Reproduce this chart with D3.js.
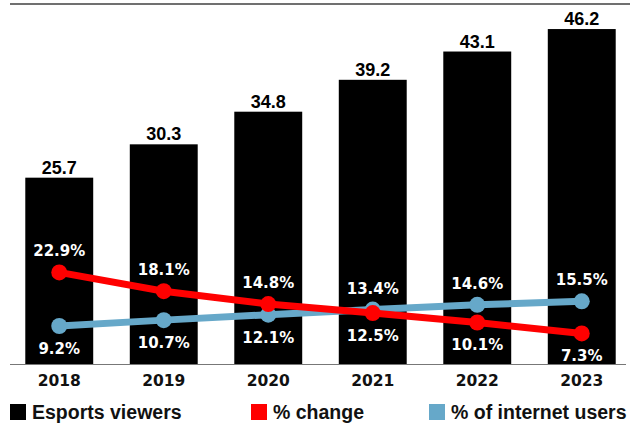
<!DOCTYPE html>
<html>
<head>
<meta charset="utf-8">
<script src="https://cdn.jsdelivr.net/npm/d3@7"></script>
<style>
  body { margin: 0; background: #fff; }
  .val { font-family: "Liberation Sans", Arial, sans-serif; font-weight: bold; font-size: 18px; }
  .pct { font-family: "DejaVu Sans", sans-serif; font-weight: bold; font-size: 15px; fill: #fff; }
  .year { font-family: "DejaVu Sans", sans-serif; font-weight: bold; font-size: 15.5px; }
  .legend { font-family: "Liberation Sans", Arial, sans-serif; font-weight: bold; font-size: 19.5px; }
</style>
</head>
<body>
<svg id="chart" width="633" height="426"></svg>
<script>
const years = ["2018", "2019", "2020", "2021", "2022", "2023"];
const viewers = [25.7, 30.3, 34.8, 39.2, 43.1, 46.2];
const pctChange = [22.9, 18.1, 14.8, 12.5, 10.1, 7.3];
const pctUsers = [9.2, 10.7, 12.1, 13.4, 14.6, 15.5];
const legendLabels = ["Esports viewers", "% change", "% of internet users"];

const red = "#ff0000";
const blue = "#66a8c9";

const svg = d3.select("#chart");

// scales
const x = d3.scaleBand().domain(years).range([7, 634])
  .paddingInner(0.35).paddingOuter(0.175);
const y = d3.scaleLinear().domain([0, 50]).range([364, 1.5]);
const y2 = d3.scaleLinear().domain([0, 92]).range([362, 2]);

// top rule
svg.append("line")
  .attr("x1", 10).attr("x2", 630).attr("y1", 4).attr("y2", 4)
  .attr("stroke", "#707070").attr("stroke-width", 2);

// bars
svg.selectAll(".bar")
  .data(viewers)
  .enter().append("rect")
  .attr("x", (d, i) => x(years[i]))
  .attr("y", d => y(d))
  .attr("width", x.bandwidth())
  .attr("height", d => y(0) - y(d))
  .attr("fill", "#000");

svg.selectAll(".val")
  .data(viewers)
  .enter().append("text")
  .attr("class", "val")
  .attr("x", (d, i) => x(years[i]) + x.bandwidth() / 2)
  .attr("y", d => y(d) - 4)
  .attr("text-anchor", "middle")
  .text(d => d.toFixed(1));

// baseline
svg.append("line")
  .attr("x1", 10).attr("x2", 626).attr("y1", 364.5).attr("y2", 364.5)
  .attr("stroke", "#777").attr("stroke-width", 1);

// year labels
const xAxis = d3.axisBottom(x).tickSize(0).tickPadding(0);
const gx = svg.append("g").attr("transform", "translate(0,370)").call(xAxis);
gx.select(".domain").remove();
gx.selectAll("text").attr("class", "year").attr("fill", "#111")
  .attr("dy", "0").attr("y", 15.5);

const cx = i => x(years[i]) + x.bandwidth() / 2;
const line = d3.line().x((d, i) => cx(i)).y(d => y2(d));

function drawSeries(vals, other, color) {
  svg.append("path")
    .datum(vals)
    .attr("d", line)
    .attr("fill", "none")
    .attr("stroke", color)
    .attr("stroke-width", 7);
  svg.selectAll(null)
    .data(vals)
    .enter().append("circle")
    .attr("cx", (d, i) => cx(i))
    .attr("cy", d => y2(d))
    .attr("r", 8)
    .attr("fill", color);
}

function drawLabels(vals, other) {
  svg.selectAll(null)
    .data(vals)
    .enter().append("text")
    .attr("class", "pct")
    .attr("x", (d, i) => cx(i))
    .attr("y", (d, i) => d > other[i] ? y2(d) - 16 : y2(d) + 28)
    .attr("text-anchor", "middle")
    .text(d => d.toFixed(1) + "%");
}

drawSeries(pctUsers, pctChange, blue);
drawSeries(pctChange, pctUsers, red);
drawLabels(pctUsers, pctChange);
drawLabels(pctChange, pctUsers);

// legend
const legendColors = ["#000", red, blue];
const legendX = [10, 251, 429];
const lg = svg.selectAll(".lg")
  .data(legendLabels)
  .enter().append("g")
  .attr("transform", (d, i) => "translate(" + legendX[i] + ",404)");
lg.append("rect")
  .attr("width", 16).attr("height", 16)
  .attr("fill", (d, i) => legendColors[i]);
lg.append("text")
  .attr("class", "legend")
  .attr("x", 22).attr("y", 15)
  .attr("fill", "#111")
  .text(d => d);
</script>
</body>
</html>
